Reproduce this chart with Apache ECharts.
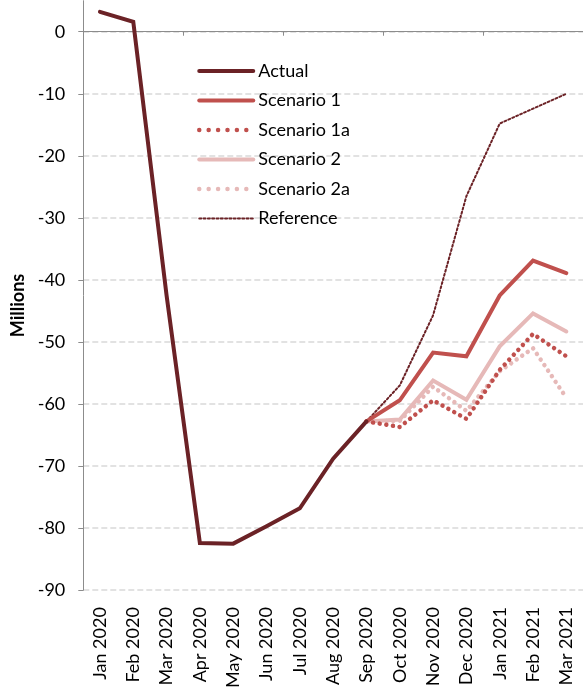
<!DOCTYPE html>
<html>
<head>
<meta charset="utf-8">
<script src="https://cdn.jsdelivr.net/npm/echarts@6/dist/echarts.min.js"></script>
<style>
  html, body { margin: 0; padding: 0; background: #fff; }
  #chart { width: 583px; height: 691px; }
</style>
</head>
<body>
<div id="chart"></div>
<script>
// Monthly change, millions
const months = ['Jan 2020', 'Feb 2020', 'Mar 2020', 'Apr 2020', 'May 2020', 'Jun 2020', 'Jul 2020',
  'Aug 2020', 'Sep 2020', 'Oct 2020', 'Nov 2020', 'Dec 2020', 'Jan 2021', 'Feb 2021', 'Mar 2021'];
const actual     = [3.2, 1.6, -42.5, -82.4, -82.5, -79.7, -76.8, -68.8, -62.8, null, null, null, null, null, null];
const scenario1  = [null, null, null, null, null, null, null, null, -62.8, -59.4, -51.7, -52.3, -42.5, -36.9, -38.9];
const scenario1a = [null, null, null, null, null, null, null, null, -62.8, -63.7, -59.4, -62.4, -54.5, -48.7, -52.3];
const scenario2  = [null, null, null, null, null, null, null, null, -62.8, -62.5, -56.2, -59.3, -50.7, -45.4, -48.3];
const scenario2a = [null, null, null, null, null, null, null, null, -62.8, -62.7, -57.2, -61.1, -54.7, -51.0, -59.0];
const reference  = [null, null, null, null, null, null, null, null, -62.8, -57.0, -45.7, -26.5, -14.8, -12.4, -10.0];
const yTicks = [-90, -80, -70, -60, -50, -40, -30, -20, -10, 0];

const FONT = 'Lato';
const DARK = '#6b2226';
const RED = '#c0504d';
const PINK = '#e6b9b8';
const DOTS = [0.01, 6.7];
const LEGEND_DOTS = [0.01, 9.4];

function lineSeries(name, data, color, width, type, z) {
  return {
    name: name,
    type: 'line',
    data: data,
    xAxisIndex: 0,
    symbol: 'none',
    connectNulls: false,
    z: z,
    lineStyle: { color: color, width: width, type: type, cap: 'round', join: 'miter' },
    itemStyle: { color: color }
  };
}

const chart = echarts.init(document.getElementById('chart'), null, { renderer: 'canvas' });
chart.setOption({
  animation: false,
  backgroundColor: '#ffffff',
  textStyle: { fontFamily: FONT },
  grid: { left: 83.3, top: 0.7, width: 501.4, height: 595.3, containLabel: false },
  legend: {
    orient: 'vertical',
    left: 197,
    top: 62,
    padding: 0,
    itemWidth: 54,
    itemHeight: 18,
    itemGap: 11.5,
    itemStyle: { opacity: 0 },
    lineStyle: { width: 'inherit', type: 'inherit', cap: 'round' },
    textStyle: { fontFamily: FONT, fontSize: 18, color: '#000', lineHeight: 18, padding: [0, 0, 0, 0] },
    data: [
      'Actual',
      'Scenario 1',
      { name: 'Scenario 1a', lineStyle: { type: LEGEND_DOTS } },
      'Scenario 2',
      { name: 'Scenario 2a', lineStyle: { type: LEGEND_DOTS } },
      'Reference'
    ]
  },
  xAxis: [
    {
      // axis line crossing at zero with boundary ticks
      type: 'category',
      data: months,
      boundaryGap: true,
      position: 'bottom',
      axisLine: { show: true, onZero: true, lineStyle: { color: '#8c8c8c', width: 1 } },
      axisTick: { show: true, length: 4, lineStyle: { color: '#8c8c8c' } },
      axisLabel: { show: false },
      splitLine: { show: false }
    },
    {
      // month labels along the bottom
      type: 'category',
      data: months,
      boundaryGap: true,
      position: 'bottom',
      axisLine: { show: false, onZero: false },
      axisTick: { show: false },
      axisLabel: { show: true, rotate: 90, margin: 17, fontFamily: FONT, fontSize: 18, color: '#000', interval: 0 },
      splitLine: { show: false }
    }
  ],
  yAxis: {
    type: 'value',
    min: -90,
    max: 5,
    interval: 10,
    name: 'Millions',
    nameLocation: 'middle',
    nameGap: 56,
    nameRotate: 90,
    nameTextStyle: { fontFamily: FONT, fontSize: 18, fontWeight: 'bold', color: '#000', padding: [0, 20, 0, 0] },
    axisLine: { show: true, onZero: false, lineStyle: { color: '#8c8c8c', width: 1 } },
    axisTick: { show: true, inside: false, length: 5, customValues: yTicks, lineStyle: { color: '#8c8c8c' } },
    axisLabel: { margin: 18, fontFamily: FONT, fontSize: 18, color: '#000', customValues: yTicks },
    splitLine: { show: true, lineStyle: { color: '#d9d9d9', width: 1.5, type: [6, 3] } }
  },
  series: [
    lineSeries('Reference', reference, DARK, 2, [2, 2.3], 2),
    lineSeries('Scenario 2a', scenario2a, PINK, 4.5, DOTS, 3),
    lineSeries('Scenario 2', scenario2, PINK, 4, 'solid', 4),
    lineSeries('Scenario 1a', scenario1a, RED, 4.5, DOTS, 5),
    lineSeries('Scenario 1', scenario1, RED, 4, 'solid', 6),
    lineSeries('Actual', actual, DARK, 4, 'solid', 7)
  ]
});
</script>
</body>
</html>
